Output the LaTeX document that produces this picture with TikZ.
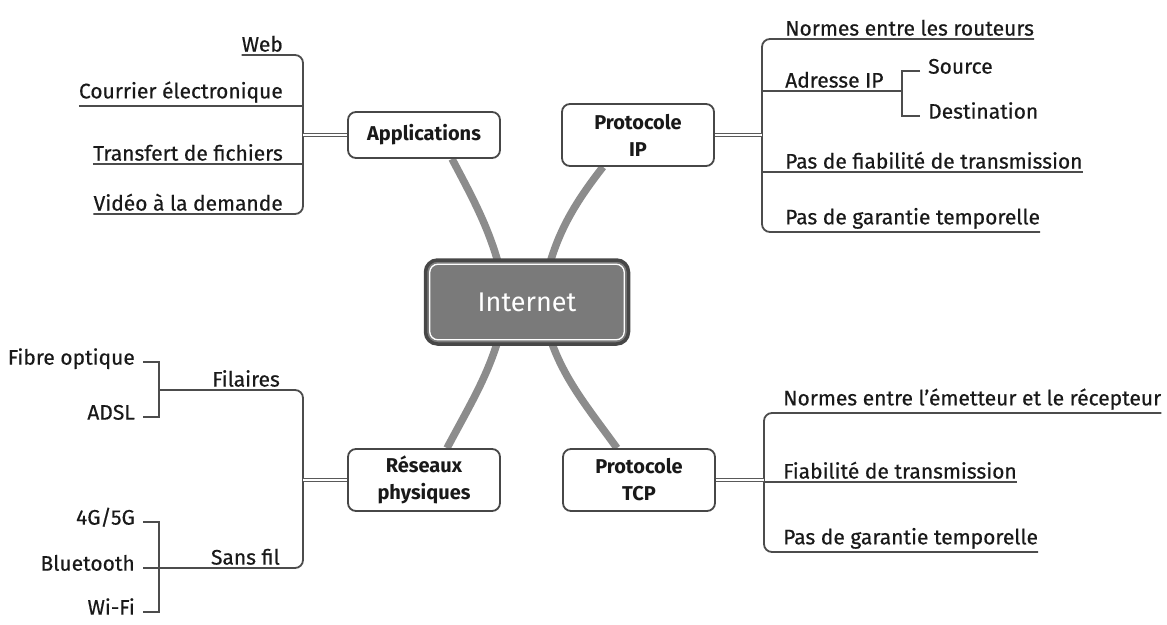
\documentclass[tikz,border=0pt]{standalone}
\usepackage{fontspec}
\setmainfont{Fira Sans}
\newfontfamily\leaffont{Fira Sans}[FakeBold=0.5]
\usetikzlibrary{positioning,backgrounds}
\tikzset{
  leaf/.style   = {inner xsep=0pt, inner ysep=3pt, text=black!90,
                   font=\leaffont\fontsize{21}{25}\selectfont},
  topic/.style  = {draw=black!72, line width=1.8pt, fill=white, rounded corners=8pt,
                   align=center, minimum width=152pt, text=black!90,
                   font=\fontsize{20}{27}\selectfont\bfseries},
  hub/.style    = {draw=black!72, line width=3.5pt, fill=black!52, rounded corners=12pt,
                   minimum width=203pt, minimum height=84pt, text=white,
                   font=\fontsize{27}{30}\selectfont},
  link/.style   = {draw=black!70, line width=1.8pt},
  twin/.style   = {draw=black!65, line width=1.1pt, double=white, double distance=2pt},
  branch/.style = {draw=black!45, line width=7.5pt}
}

\begin{document}
\begin{tikzpicture}[x=1pt, y=1pt]
\useasboundingbox (0,0) rectangle (1167,-624);

% centre of the map
\node[hub] (inet) at (527,-302) {Internet};
\draw[white, line width=1.3pt, rounded corners=8pt]
  ([shift={(6,-6)}]inet.north west) rectangle ([shift={(-6,6)}]inet.south east);

% the four topics
\node[topic, minimum height=46pt] (app) at (424,-135) {Applications};
\node[topic, minimum height=62pt] (ip)  at (638,-135) {Protocole\\IP};
\node[topic, minimum height=62pt] (res) at (424,-480) {Réseaux\\physiques};
\node[topic, minimum height=62pt] (tcp) at (639,-480) {Protocole\\TCP};

% branches behind the boxes
\begin{scope}[on background layer]
\draw[branch] ([xshift=28pt]app.south) to[out=-62,in=100] ([xshift=-20pt]inet.center);
\draw[branch] ([xshift=23pt]res.north) to[out=62,in=-100] ([xshift=-20pt]inet.center);
\draw[branch] ([xshift=-35pt]ip.south) to[out=-128,in=80] ([xshift=14pt]inet.center);
\draw[branch] ([xshift=-22pt]tcp.north) to[out=126,in=-80] ([xshift=14pt]inet.center);
\end{scope}

% Applications
\coordinate (appbus) at (303,-135);
\node[leaf, anchor=south east] (web)  at (283,-55)  {Web};
\node[leaf, anchor=south east] (mail) at (283,-106) {Courrier électronique};
\node[leaf, anchor=south east] (ftp)  at (283,-164) {Transfert de fichiers};
\node[leaf, anchor=south east] (vod)  at (283,-214) {Vidéo à la demande};
\draw[link, rounded corners=8pt] (web.south west) -- (web.south west -| appbus)
  -- (vod.south west -| appbus) -- (vod.south west);
\draw[link] (mail.south west) -- (mail.south west -| appbus);
\draw[link] (ftp.south west) -- (ftp.south west -| appbus);
\draw[twin] (app.west) -- (appbus);

% Protocole IP
\coordinate (ipbus) at (762,-135);
\coordinate (addrbus) at (902,-91);
\node[leaf, anchor=south west] (rout)   at (785,-39)  {Normes entre les routeurs};
\node[leaf, anchor=south west] (addr)   at (785,-91)  {Adresse IP};
\node[leaf, anchor=south west] (nofia)  at (785,-172) {Pas de fiabilité de transmission};
\node[leaf, anchor=south west] (notime) at (785,-232) {Pas de garantie temporelle};
\node[leaf, anchor=mid west] (src) at (928,-71)  {Source};
\node[leaf, anchor=mid west] (dst) at (928,-116) {Destination};
\draw[link, rounded corners=8pt] (rout.south east) -- (rout.south east -| ipbus)
  -- (notime.south east -| ipbus) -- (notime.south east);
\draw[link] (addr.south west -| ipbus) -- (addrbus);
\draw[link] (nofia.south west -| ipbus) -- (nofia.south east);
\draw[link] ([xshift=-8pt]src.mid west) -- (src.mid west -| addrbus)
  -- (dst.mid west -| addrbus) -- ([xshift=-8pt]dst.mid west);
\draw[twin] (ip.east) -- (ipbus);

% Protocole TCP
\coordinate (tcpbus) at (764,-480);
\node[leaf, anchor=south west] (norm) at (783,-413) {Normes entre l’émetteur et le récepteur};
\node[leaf, anchor=south west] (fia)  at (783,-482) {Fiabilité de transmission};
\node[leaf, anchor=south west] (temp) at (783,-552) {Pas de garantie temporelle};
\draw[link, rounded corners=8pt] (norm.south east) -- (norm.south east -| tcpbus)
  -- (temp.south east -| tcpbus) -- (temp.south east);
\draw[link] (fia.south west -| tcpbus) -- (fia.south east);
\draw[twin] (tcp.east) -- (tcpbus);

% Reseaux physiques
\coordinate (resbus) at (303,-480);
\coordinate (wirebus) at (159,-390);
\coordinate (airbus) at (159,-568);
\node[leaf, anchor=south east] (wire) at (280,-390) {Filaires};
\node[leaf, anchor=south east] (air)  at (280,-568) {Sans fil};
\node[leaf, anchor=mid east] (fibre) at (135,-362) {Fibre optique};
\node[leaf, anchor=mid east] (adsl)  at (135,-417) {ADSL};
\node[leaf, anchor=mid east] (mob)   at (135,-522) {4G/5G};
\node[leaf, anchor=mid east] (blue)  at (135,-568) {Bluetooth};
\node[leaf, anchor=mid east] (wifi)  at (135,-612) {Wi-Fi};
\draw[link, rounded corners=8pt] (wirebus) -- (wirebus -| resbus)
  -- (airbus -| resbus) -- (airbus);
\draw[link] ([xshift=8pt]fibre.mid east) -- (fibre.mid east -| wirebus)
  -- (adsl.mid east -| wirebus) -- ([xshift=8pt]adsl.mid east);
\draw[link] ([xshift=8pt]mob.mid east) -- (mob.mid east -| airbus)
  -- (wifi.mid east -| airbus) -- ([xshift=8pt]wifi.mid east);
\draw[link] ([xshift=8pt]blue.mid east) -- (airbus);
\draw[twin] (res.west) -- (resbus);

\end{tikzpicture}
\end{document}
